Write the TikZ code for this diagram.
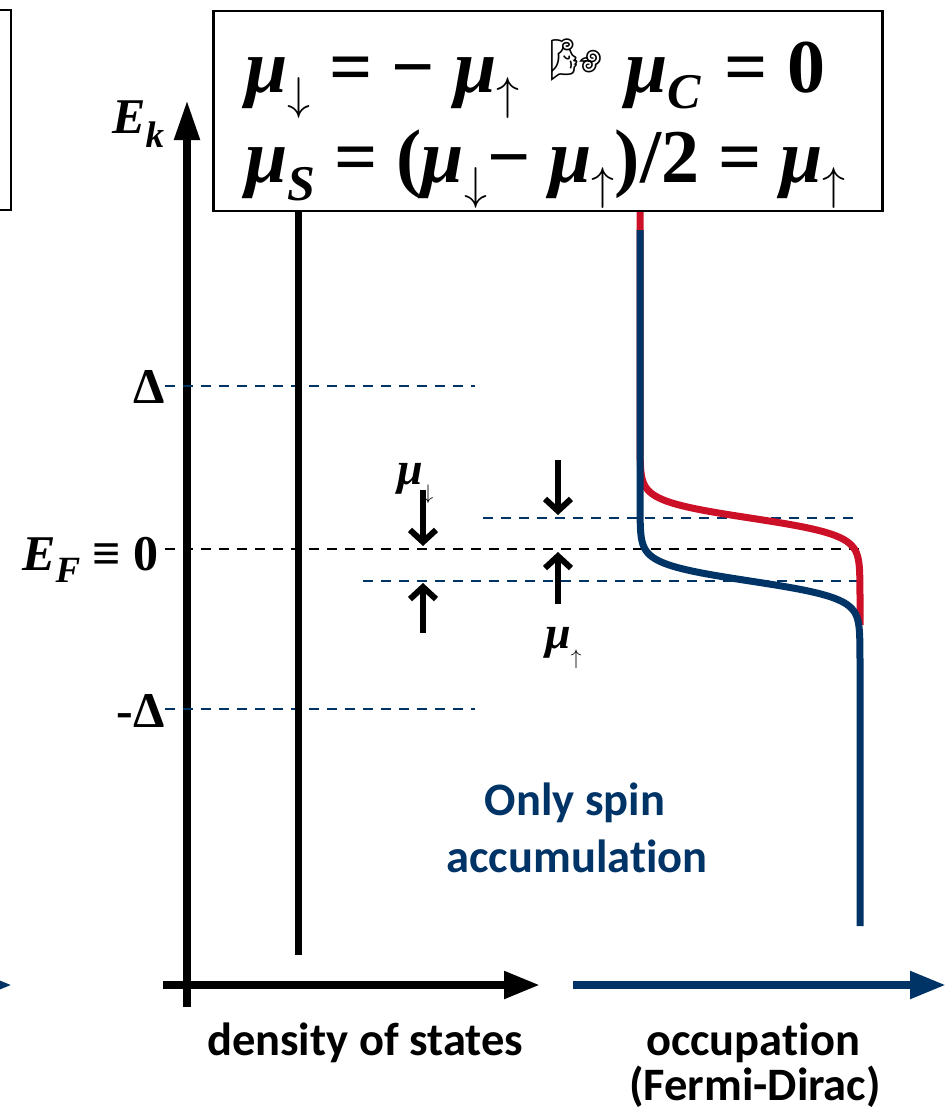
\RequirePackage{fix-cm}
\documentclass[tikz,border=0pt]{standalone}
\usepackage{fontspec}
\setmainfont{Liberation Serif}
\newfontfamily\calibri[Ligatures=NoCommon]{Carlito}
\newfontfamily\emojifont{Noto Emoji}
\usetikzlibrary{arrows.meta,positioning}
\definecolor{deepblue}{RGB}{0,51,102}
\definecolor{fdred}{RGB}{204,16,40}
\newcommand{\muB}{\textit{μ}}
\newcommand{\spinsub}[3]{\raisebox{#2}{\fontsize{#1}{#1}\selectfont$#3$}}

\begin{document}
\begin{tikzpicture}[x=1pt,y=-1pt,
  formula/.style={font=\fontsize{76}{90}\selectfont\bfseries,inner sep=0,anchor=base west},
  lbl/.style={font=\fontsize{50}{50}\selectfont\bfseries,inner sep=0},
  mulbl/.style={font=\fontsize{46}{46}\selectfont\bfseries,inner sep=0,anchor=base west},
  sanstxt/.style={font=\calibri\fontsize{46.5}{55}\selectfont\bfseries,inner sep=0,anchor=base},
  axis/.style={line width=8pt,-{Triangle[length=36pt,width=26pt]}},
  level/.style={deepblue,line width=2.5pt,dash pattern=on 10pt off 8pt},
  marker/.style={line width=6pt,-{Straight Barb[length=12pt,width=26pt]}},
  fd/.style={line width=7pt,line join=round}
]
\useasboundingbox (0,0) rectangle (946,1119);
\clip (0,0) rectangle (946,1119);

% neighbouring panels, cut off
\draw[line width=2pt] (-20,10) rectangle (11,210);
\coordinate (prevtail) at (-60,985);
\coordinate (prevtip) at (12,985);
\draw[axis,deepblue] (prevtail) -- (prevtip);

% axes
\coordinate (origin) at (187,985);
\coordinate (ebottom) at (187,1007);
\coordinate (etop) at (187,100);
\coordinate (dosleft) at (163,985);
\coordinate (dosright) at (540,985);
\coordinate (occleft) at (573,985);
\coordinate (occright) at (946,985);
\draw[axis,-{Triangle[length=40pt,width=24pt]}] (ebottom) -- (etop);
\draw[axis] (dosleft) -- (dosright);
\draw[axis,deepblue] (occleft) -- (occright);
\node[lbl,anchor=base west] (ek) at (112,133) {\textit{E}\raisebox{-14pt}{\fontsize{37}{37}\selectfont\textit{k}}};

% energy levels
\node[lbl,anchor=base east] (gapup) at (165,403) {Δ};
\node[lbl,anchor=base east] (fermi) at (159,570) {\textit{E}\raisebox{-12pt}{\fontsize{37}{37}\selectfont\textit{F}} ≡ 0};
\node[lbl,anchor=base east] (gapdn) at (165,727) {-Δ};
\coordinate (gapupend) at (475,386);
\coordinate (gapdnend) at (475,709);
\coordinate (fermistart) at (165,549);
\coordinate (fermiend) at (860,549);
\coordinate (mudnstart) at (483,518);
\coordinate (mudnend) at (860,518);
\coordinate (muupstart) at (363,581);
\coordinate (muupend) at (860,581);
\draw[level] (gapup.east |- gapupend) -- (gapupend);
\draw[level] (gapdn.east |- gapdnend) -- (gapdnend);
\draw[level,black] (fermistart) -- (fermiend);
\draw[level] (mudnstart) -- (mudnend);
\draw[level] (muupstart) -- (muupend);

% density of states
\coordinate (dostop) at (298,212);
\coordinate (dosbottom) at (298,955);
\draw[line width=7pt] (dostop) -- (dosbottom);

% shifts of the spin levels
\coordinate (a1) at (423,490);
\coordinate (a1tip) at (423,546);
\coordinate (a2) at (423,633);
\coordinate (a2tip) at (423,583);
\coordinate (b1) at (558,460);
\coordinate (b1tip) at (558,515);
\coordinate (b2) at (558,604);
\coordinate (b2tip) at (558,552);
\draw[marker] (a1) -- (a1tip);
\draw[marker] (a2) -- (a2tip);
\draw[marker] (b1) -- (b1tip);
\draw[marker] (b2) -- (b2tip);
\node[mulbl] (mudn) at (397,484) {\muB\spinsub{21}{-15pt}{\downarrow}};
\node[mulbl] (muup) at (545,648) {\muB\spinsub{21}{-16pt}{\uparrow}};

% Fermi-Dirac occupations
\draw[fd,fdred] (640,212) -- (640,440)
  -- plot[domain=440:600,samples=120,variable=\t] ({640+220/(1+exp(-(\t-518)/8.5))},\t)
  -- (860,625);
\draw[fd,deepblue] (640,230) -- (640,505)
  -- plot[domain=505:660,samples=120,variable=\t] ({640+220/(1+exp(-(\t-581)/8.5))},\t)
  -- (860,926);
\node[sanstxt,text=deepblue] (only) at (575,815) {Only spin};
\node[sanstxt,text=deepblue] (accum) at (577,872) {accumulation};

% axis titles
\node[sanstxt] (dostitle) at (365,1055) {density of states};
\node[sanstxt] (occtitle) at (753,1055) {occupation};
\node[sanstxt] (fdtitle) at (755,1100) {(Fermi-Dirac)};

% formula box
\node[draw,fill=white,line width=2.5pt,minimum width=669pt,minimum height=200pt] (eqbox) at (548,111) {};
\node[formula] (eqone) at (245,92) {\muB\spinsub{46}{-17pt}{\downarrow} = − \muB\spinsub{46}{-17pt}{\uparrow}\hspace{30pt}\raisebox{18pt}{\emojifont\fontsize{42}{42}\selectfont 🌬}\hspace{4pt} \muB\raisebox{-16pt}{\fontsize{50}{50}\selectfont\textit{C}}\hspace{4pt} = 0};
\node[formula] (eqtwo) at (245,182) {\muB\raisebox{-18pt}{\fontsize{50}{50}\selectfont\textit{S}} = (\muB\spinsub{46}{-17pt}{\downarrow}− \muB\spinsub{46}{-17pt}{\uparrow})/2 = \muB\spinsub{46}{-17pt}{\uparrow}};
\end{tikzpicture}
\end{document}
